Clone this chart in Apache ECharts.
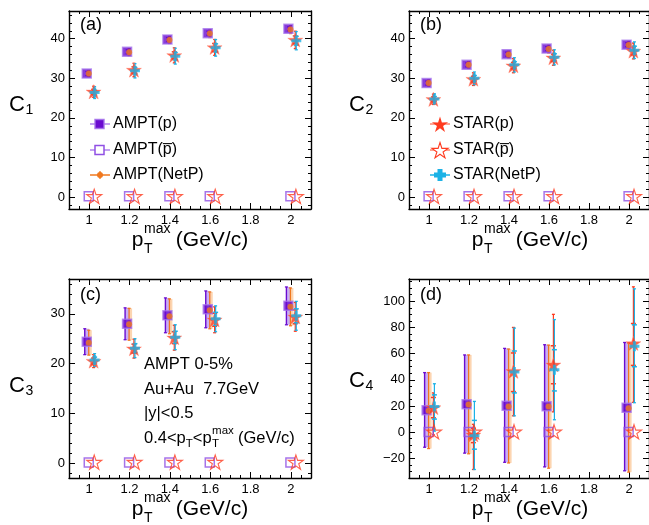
<!DOCTYPE html>
<html><head><meta charset="utf-8">
<script src="https://cdn.jsdelivr.net/npm/echarts@6/dist/echarts.min.js"></script>
<style>html,body{margin:0;padding:0;background:#fff}#c{width:649px;height:525px}</style>
</head><body><div id="c"></div>
<script>
// ---------------- DATA ----------------
const ptMax = [1.0, 1.2, 1.4, 1.6, 2.0];
const xMajorTicks = [1, 1.2, 1.4, 1.6, 1.8, 2];
const xMinorTicks = [0.9, 0.95, 1.05, 1.1, 1.15, 1.25, 1.3, 1.35, 1.45, 1.5, 1.55, 1.65, 1.7, 1.75, 1.85, 1.9, 1.95, 2.05, 2.1];
const yMajorC12 = [0, 10, 20, 30, 40];
const yMinorC12 = [-2, 2, 4, 6, 8, 12, 14, 16, 18, 22, 24, 26, 28, 32, 34, 36, 38, 42, 44, 46];
const yMajorC3 = [0, 10, 20, 30];
const yMinorC3 = [-2, 2, 4, 6, 8, 12, 14, 16, 18, 22, 24, 26, 28, 32, 34, 36];
const yMajorC4 = [-20, 0, 20, 40, 60, 80, 100];
const yMinorC4 = [-35, -30, -25, -15, -10, -5, 5, 10, 15, 25, 30, 35, 45, 50, 55, 65, 70, 75, 85, 90, 95, 105, 110, 115];

// C1
const c1AmptP = [31.2, 36.7, 39.8, 41.4, 42.5];
const c1AmptPErr = [0.5, 0.5, 0.5, 0.5, 0.5];
const c1AmptPbar = [0.2, 0.2, 0.2, 0.2, 0.2];
const c1AmptNetP = [31.2, 36.6, 39.7, 41.3, 42.3];
const c1AmptNetPErr = [0.8, 0.9, 0.9, 1.0, 1.0];
const c1StarP = [26.6, 32.1, 35.8, 37.8, 39.7];
const c1StarPErr = [1.4, 1.7, 1.9, 2.0, 2.2];
const c1StarPStat = [0.6, 0.8, 0.9, 1.0, 1.0];
const c1StarPbar = [0.2, 0.2, 0.2, 0.2, 0.2];
const c1StarNetP = [26.4, 31.9, 35.6, 37.7, 39.5];
const c1StarNetPErr = [1.5, 1.8, 2.0, 2.1, 2.3];
const c1StarNetPStat = [0.6, 0.8, 0.9, 1.0, 1.1];
// C2
const c2AmptP = [28.8, 33.4, 36.1, 37.5, 38.5];
const c2AmptPErr = [0.5, 0.5, 0.5, 0.5, 0.5];
const c2AmptPbar = [0.2, 0.2, 0.2, 0.2, 0.2];
const c2AmptNetP = [28.8, 33.4, 36.0, 37.4, 38.4];
const c2AmptNetPErr = [0.8, 0.9, 0.9, 1.0, 1.0];
const c2StarP = [24.7, 29.8, 33.2, 35.2, 36.9];
const c2StarPErr = [1.3, 1.6, 1.8, 1.9, 2.0];
const c2StarPStat = [0.6, 0.7, 0.8, 0.9, 1.0];
const c2StarPbar = [0.2, 0.2, 0.2, 0.2, 0.2];
const c2StarNetP = [24.8, 30.0, 33.4, 35.3, 37.1];
const c2StarNetPErr = [1.3, 1.6, 1.8, 1.9, 2.1];
const c2StarNetPStat = [0.6, 0.7, 0.8, 0.9, 1.0];
// C3
const c3AmptP = [24.4, 28.0, 29.7, 30.9, 31.6];
const c3AmptPErr = [2.6, 3.2, 3.5, 3.7, 3.8];
const c3AmptPbar = [0.1, 0.1, 0.1, 0.1, 0.1];
const c3AmptNetP = [24.2, 27.9, 29.5, 30.7, 31.4];
const c3AmptNetPErr = [2.5, 3.2, 3.5, 3.7, 3.8];
const c3StarP = [20.5, 23.0, 25.2, 28.8, 29.4];
const c3StarPErr = [1.3, 1.9, 2.5, 2.6, 2.9];
const c3StarPStat = [0.6, 0.9, 1.2, 1.3, 1.4];
const c3StarPbar = [0.2, 0.2, 0.2, 0.2, 0.2];
const c3StarNetP = [20.7, 23.1, 25.3, 29.0, 29.6];
const c3StarNetPErr = [1.3, 1.9, 2.5, 2.6, 2.9];
const c3StarNetPStat = [0.6, 0.9, 1.2, 1.3, 1.4];
// C4 (explicit bounds)
const c4AmptP = [16.8, 21.4, 20.2, 19.8, 18.6];
const c4AmptPLo = [-11.5, -16, -23, -26.5, -29.5];
const c4AmptPHi = [45.5, 59, 64, 66.8, 68.5];
const c4AmptPbar = [0.2, 0.2, 0.2, 0.2, 0.2];
const c4AmptNetP = [16.3, 21.2, 19.6, 19.6, 18.2];
const c4AmptNetPLo = [-12.5, -16.5, -23.5, -27.5, -30.5];
const c4AmptNetPHi = [45.5, 59, 63.5, 66.5, 68];
const c4StarP = [18.8, -2.0, 46.5, 51.5, 67.8];
const c4StarPLo = [-2, -28.5, 12.5, 15.5, 22.8];
const c4StarPHi = [30, 6, 80, 90, 111];
const c4StarPStatLo = [11, -8, 31, 37, 51];
const c4StarPStatHi = [26.5, 3, 60.5, 66, 83];
const c4StarPbar = [0.3, 0.3, 0.3, 0.3, 0.3];
const c4StarNetP = [19.6, -2.8, 46.0, 47.6, 65.6];
const c4StarNetPLo = [0.8, -28.5, 12.5, 9.5, 22.5];
const c4StarNetPHi = [37, 23.5, 79.5, 86, 109.5];
const c4StarNetPStatLo = [10, -13, 30, 31.5, 50];
const c4StarNetPStatHi = [28.5, 9, 62, 63, 82];

// ---------------- STYLE ----------------
const FONT = '"Liberation Sans", Arial, Helvetica, sans-serif';
const PURPLE = '#6A0BD0', PURPLE_L = '#9050E4', PURPLE_BAND = 'rgba(165,120,238,0.6)';
const ORANGE = '#F0781E', ORANGE_BAND = 'rgba(250,185,125,0.6)';
const RED = '#FF3A1E', CYAN = '#1BB2E6';
const STAR_PATH = 'path://M50 0L61.2 34.6L97.6 34.5L68.1 55.9L79.4 90.5L50 69L20.6 90.5L31.9 55.9L2.4 34.5L38.8 34.6Z';
const PLUS_PATH = 'path://M35 0H65V35H100V65H65V100H35V65H0V35H35Z';
const OFF = {amptP: -0.012, amptPbar: -0.002, amptNetP: -0.002, starP: 0.022, starPbar: 0.025, starNetP: 0.027};

const grids = [
  {left: 69, top: 11, width: 242, height: 198},
  {left: 409, top: 11, width: 242, height: 198},
  {left: 69, top: 279, width: 242, height: 199},
  {left: 409, top: 279, width: 242, height: 199}
];
const yCfg = [
  {min: -3, max: 47, majors: yMajorC12, minors: yMinorC12},
  {min: -3, max: 47, majors: yMajorC12, minors: yMinorC12},
  {min: -3, max: 37, majors: yMajorC3, minors: yMinorC3},
  {min: -35, max: 117, majors: yMajorC4, minors: yMinorC4}
];

function fmt(v) { return v < 0 ? '\u2212' + Math.abs(v) : String(v); }

function axisSet(dim, g, pos, min, max, majors, minors, showLabel) {
  const base = {gridIndex: g, type: 'value', min: min, max: max, position: pos, splitLine: {show: false}};
  const major = Object.assign({}, base, {
    axisLine: {show: true, onZero: false, lineStyle: {color: '#000', width: 1.4}},
    axisTick: {show: true, inside: true, length: 6, customValues: majors, lineStyle: {color: '#000', width: 1}},
    axisLabel: {show: showLabel, customValues: majors, fontSize: 13, fontFamily: FONT, color: '#000',
      margin: dim === 'x' ? 5 : 4, formatter: fmt}
  });
  const minor = Object.assign({}, base, {
    axisLine: {show: false, onZero: false},
    axisTick: {show: true, inside: true, length: 3, customValues: minors, lineStyle: {color: '#000', width: 1}},
    axisLabel: {show: false}
  });
  return [major, minor];
}

const xAxes = [], yAxes = [];
grids.forEach((gr, g) => {
  xAxes.push(...axisSet('x', g, 'bottom', 0.9, 2.1, xMajorTicks, xMinorTicks, true));
  xAxes.push(...axisSet('x', g, 'top', 0.9, 2.1, xMajorTicks, xMinorTicks, false));
  const c = yCfg[g];
  yAxes.push(...axisSet('y', g, 'left', c.min, c.max, c.majors, c.minors, true));
  yAxes.push(...axisSet('y', g, 'right', c.min, c.max, c.majors, c.minors, false));
});

// opts: lineDx (line offset from marker), band {x0,x1,fill}, stat
function errSeries(g, data, color, opts) {
  return {
    type: 'custom', xAxisIndex: 4 * g, yAxisIndex: 4 * g, silent: true, animation: false, clip: false,
    data: data, encode: {x: 0, y: 1},
    renderItem: function (params, api) {
      const x = api.value(0);
      const a = api.coord([x, api.value(1)]), b = api.coord([x, api.value(2)]);
      const lx = a[0] + (opts.lineDx || 0);
      const ch = [];
      if (opts.band) ch.push({type: 'rect', shape: {x: a[0] + opts.band.x0, y: b[1], width: opts.band.x1 - opts.band.x0, height: a[1] - b[1]}, style: {fill: opts.band.fill}});
      ch.push({type: 'line', shape: {x1: lx, y1: a[1], x2: lx, y2: b[1]}, style: {stroke: color, lineWidth: opts.lw || 1.2}});
      const cw = opts.cap || 1.5;
      [a, b].forEach(p => ch.push({type: 'line', shape: {x1: lx - cw, y1: p[1], x2: lx + cw, y2: p[1]}, style: {stroke: color, lineWidth: 1.3}}));
      if (opts.stat) {
        const s1 = api.coord([x, api.value(3)]), s2 = api.coord([x, api.value(4)]);
        [s1, s2].forEach(p => ch.push({type: 'line', shape: {x1: lx - 2.5, y1: p[1], x2: lx + 2.5, y2: p[1]}, style: {stroke: color, lineWidth: 1.5}}));
      }
      return {type: 'group', children: ch};
    }
  };
}

function scatter(g, xs, ys, off, sym, size, itemStyle, z) {
  return {
    type: 'scatter', xAxisIndex: 4 * g, yAxisIndex: 4 * g, silent: true, animation: false, z: z || 3,
    symbol: sym, symbolSize: size, symbolKeepAspect: true, itemStyle: itemStyle,
    data: xs.map((x, i) => [x + off, ys[i]])
  };
}

function symErr(vals, errs) { return vals.map((v, i) => [v - errs[i], v + errs[i]]); }

function panelSeries(g, P) {
  const s = [];
  s.push(errSeries(g, ptMax.map((x, i) => [x + OFF.amptP, P.amptPB[i][0], P.amptPB[i][1]]), PURPLE,
    {lineDx: P.band ? -2 : 0, band: P.band ? {x0: -2, x1: 2.5, fill: PURPLE_BAND} : null, lw: 1.4}));
  s.push(errSeries(g, ptMax.map((x, i) => [x + OFF.amptNetP, P.amptNetPB[i][0], P.amptNetPB[i][1]]), ORANGE,
    {lineDx: 0, band: P.band ? {x0: 0.5, x1: 3, fill: ORANGE_BAND} : null, lw: 1.3}));
  s.push(scatter(g, ptMax, P.amptP, OFF.amptP, 'rect', 9, {color: PURPLE, borderColor: 'rgba(165,115,235,0.9)', borderWidth: 1.5}));
  s.push(scatter(g, ptMax, P.amptPbar, OFF.amptPbar, 'rect', 9, {color: 'rgba(255,255,255,0)', borderColor: PURPLE_L, borderWidth: 1.5}));
  s.push(scatter(g, ptMax, P.amptNetP, OFF.amptNetP, 'circle', 6, {color: ORANGE}));
  s.push(errSeries(g, ptMax.map((x, i) => [x + OFF.starP, P.starPB[i][0], P.starPB[i][1], P.starPS[i][0], P.starPS[i][1]]), RED, {stat: true}));
  s.push(scatter(g, ptMax, P.starP, OFF.starP, STAR_PATH, 15, {color: RED, borderColor: 'rgba(255,120,100,0.6)', borderWidth: 0.8}));
  s.push(scatter(g, ptMax, P.starPbar, OFF.starPbar, STAR_PATH, 15, {color: 'rgba(255,255,255,0)', borderColor: RED, borderWidth: 1.1}));
  s.push(errSeries(g, ptMax.map((x, i) => [x + OFF.starNetP, P.starNetPB[i][0], P.starNetPB[i][1], P.starNetPS[i][0], P.starNetPS[i][1]]), CYAN, {stat: true}));
  s.push(scatter(g, ptMax, P.starNetP, OFF.starNetP, PLUS_PATH, 10, {color: CYAN}));
  return s;
}

const panels = [
  {amptP: c1AmptP, amptPB: symErr(c1AmptP, c1AmptPErr), amptPbar: c1AmptPbar, amptNetP: c1AmptNetP, amptNetPB: symErr(c1AmptNetP, c1AmptNetPErr),
   starP: c1StarP, starPB: symErr(c1StarP, c1StarPErr), starPS: symErr(c1StarP, c1StarPStat), starPbar: c1StarPbar,
   starNetP: c1StarNetP, starNetPB: symErr(c1StarNetP, c1StarNetPErr), starNetPS: symErr(c1StarNetP, c1StarNetPStat), band: false},
  {amptP: c2AmptP, amptPB: symErr(c2AmptP, c2AmptPErr), amptPbar: c2AmptPbar, amptNetP: c2AmptNetP, amptNetPB: symErr(c2AmptNetP, c2AmptNetPErr),
   starP: c2StarP, starPB: symErr(c2StarP, c2StarPErr), starPS: symErr(c2StarP, c2StarPStat), starPbar: c2StarPbar,
   starNetP: c2StarNetP, starNetPB: symErr(c2StarNetP, c2StarNetPErr), starNetPS: symErr(c2StarNetP, c2StarNetPStat), band: false},
  {amptP: c3AmptP, amptPB: symErr(c3AmptP, c3AmptPErr), amptPbar: c3AmptPbar, amptNetP: c3AmptNetP, amptNetPB: symErr(c3AmptNetP, c3AmptNetPErr),
   starP: c3StarP, starPB: symErr(c3StarP, c3StarPErr), starPS: symErr(c3StarP, c3StarPStat), starPbar: c3StarPbar,
   starNetP: c3StarNetP, starNetPB: symErr(c3StarNetP, c3StarNetPErr), starNetPS: symErr(c3StarNetP, c3StarNetPStat), band: true},
  {amptP: c4AmptP, amptPB: c4AmptPLo.map((v, i) => [v, c4AmptPHi[i]]), amptPbar: c4AmptPbar, amptNetP: c4AmptNetP,
   amptNetPB: c4AmptNetPLo.map((v, i) => [v, c4AmptNetPHi[i]]),
   starP: c4StarP, starPB: c4StarPLo.map((v, i) => [v, c4StarPHi[i]]), starPS: c4StarPStatLo.map((v, i) => [v, c4StarPStatHi[i]]), starPbar: c4StarPbar,
   starNetP: c4StarNetP, starNetPB: c4StarNetPLo.map((v, i) => [v, c4StarNetPHi[i]]), starNetPS: c4StarNetPStatLo.map((v, i) => [v, c4StarNetPStatHi[i]]), band: true}
];

const series = [];
panels.forEach((P, g) => series.push(...panelSeries(g, P)));

// ---------------- TEXT / GRAPHIC ----------------
const mctx = document.createElement('canvas').getContext('2d');
function tw(t, fs) { mctx.font = fs + 'px "Liberation Sans"'; return mctx.measureText(t).width; }
function txt(t, x, midY, fs, extra) {
  return Object.assign({type: 'text', x: x, y: midY, silent: true,
    style: {text: t, fontSize: fs, fontFamily: FONT, fill: '#000', align: 'left', verticalAlign: 'middle'}}, extra || {});
}
const graphic = [];

// x-axis titles: p_T^max (GeV/c)
function ptTitle(cx, base, fs, sfs) {
  const wp = tw('p', fs), ws = Math.max(tw('max', sfs), tw('T', sfs)), wr = tw(' (GeV/c)', fs);
  const x0 = cx - (wp + ws + wr) / 2;
  const mid = base - 0.33 * fs;
  graphic.push(txt('p', x0, mid, fs));
  graphic.push(txt('max', x0 + wp + 0.5, base - 13 - 0.33 * sfs, sfs));
  graphic.push(txt('T', x0 + wp + 0.5, base + 6.5 - 0.33 * sfs, sfs));
  graphic.push(txt(' (GeV/c)', x0 + wp + ws, mid, fs));
}
ptTitle(190, 247, 21, 14);
ptTitle(530, 247, 21, 14);
ptTitle(190, 516, 21, 14);
ptTitle(530, 516, 21, 14);

// y-axis titles
function cTitle(x, base, n) {
  graphic.push(txt('C', x, base - 0.33 * 22, 22));
  graphic.push(txt(n, x + tw('C', 22) + 0.5, base + 3 - 0.33 * 14, 14));
}
cTitle(9, 112, '1');
cTitle(349, 112, '2');
cTitle(9, 393, '3');
cTitle(349, 388, '4');

// panel labels
graphic.push(txt('(a)', 80, 25, 18));
graphic.push(txt('(b)', 420, 25, 18));
graphic.push(txt('(c)', 80, 295, 18));
graphic.push(txt('(d)', 420, 295, 18));

// annotation in (c)
const AF = 16.5, AS = 11.5;
graphic.push(txt('AMPT 0-5%', 144, 364, AF));
graphic.push(txt('Au+Au  7.7GeV', 144, 389, AF));
graphic.push(txt('|y|<0.5', 144, 413, AF));
(function () {
  let x = 144; const mid = 438;
  graphic.push(txt('0.4<p', x, mid, AF)); x += tw('0.4<p', AF);
  graphic.push(txt('T', x, mid + 5.5, AS)); x += tw('T', AS);
  graphic.push(txt('<p', x, mid, AF)); x += tw('<p', AF);
  graphic.push(txt('max', x + 0.5, mid - 7.5, AS));
  graphic.push(txt('T', x + 0.5, mid + 5.5, AS)); x += tw('max', AS);
  graphic.push(txt(' (GeV/c)', x, mid, AF));
})();

// legends
function starPoints(cx, cy, R) {
  const pts = [];
  for (let k = 0; k < 10; k++) {
    const ang = (-90 + 36 * k) * Math.PI / 180, r = k % 2 === 0 ? R : R * 0.38;
    pts.push([cx + r * Math.cos(ang), cy + r * Math.sin(ang)]);
  }
  return pts;
}
function legLine(x1, x2, y, color) {
  graphic.push({type: 'line', silent: true, shape: {x1: x1, y1: y, x2: x2, y2: y}, style: {stroke: color, lineWidth: 1.5}});
}
const legRows = [124, 150, 175];
// (a) AMPT legend
legLine(90, 110, legRows[0], 'rgba(150,90,230,0.75)');
graphic.push({type: 'rect', silent: true, shape: {x: 95, y: legRows[0] - 4.5, width: 9, height: 9}, style: {fill: PURPLE, stroke: 'rgba(165,115,235,0.9)', lineWidth: 1.5}});
graphic.push(txt('AMPT(p)', 113, legRows[0], 16));
legLine(90, 110, legRows[1], 'rgba(150,90,230,0.75)');
graphic.push({type: 'rect', silent: true, shape: {x: 95, y: legRows[1] - 4.5, width: 9, height: 9}, style: {fill: '#fff', stroke: PURPLE_L, lineWidth: 1.5}});
graphic.push(txt('AMPT(p\u0305)', 113, legRows[1], 16));
legLine(90, 110, legRows[2], ORANGE);
graphic.push({type: 'line', silent: true, shape: {x1: 100, y1: legRows[2] - 4, x2: 100, y2: legRows[2] + 4}, style: {stroke: ORANGE, lineWidth: 1.3}});
graphic.push({type: 'circle', silent: true, shape: {cx: 100, cy: legRows[2], r: 3}, style: {fill: ORANGE}});
graphic.push(txt('AMPT(NetP)', 113, legRows[2], 16));
// (b) STAR legend
legLine(430, 450, legRows[0], 'rgba(255,80,50,0.7)');
graphic.push({type: 'polygon', silent: true, shape: {points: starPoints(440, legRows[0] + 1, 8.5)}, style: {fill: RED}});
graphic.push(txt('STAR(p)', 453, legRows[0], 16));
legLine(430, 450, legRows[1], 'rgba(255,80,50,0.7)');
graphic.push({type: 'polygon', silent: true, shape: {points: starPoints(440, legRows[1] + 1, 8.5)}, style: {fill: '#fff', stroke: RED, lineWidth: 1.1}});
graphic.push(txt('STAR(p\u0305)', 453, legRows[1], 16));
legLine(430, 450, legRows[2], CYAN);
graphic.push({type: 'polygon', silent: true, shape: {points: [[437.5,169],[442.5,169],[442.5,172.5],[446,172.5],[446,177.5],[442.5,177.5],[442.5,181],[437.5,181],[437.5,177.5],[434,177.5],[434,172.5],[437.5,172.5]]}, style: {fill: CYAN}});
graphic.push(txt('STAR(NetP)', 453, legRows[2], 16));

const chart = echarts.init(document.getElementById('c'), null, {renderer: 'canvas'});
chart.setOption({
  backgroundColor: '#fff',
  animation: false,
  textStyle: {fontFamily: FONT},
  grid: grids,
  xAxis: xAxes,
  yAxis: yAxes,
  series: series,
  graphic: graphic
});
</script>
</body></html>
